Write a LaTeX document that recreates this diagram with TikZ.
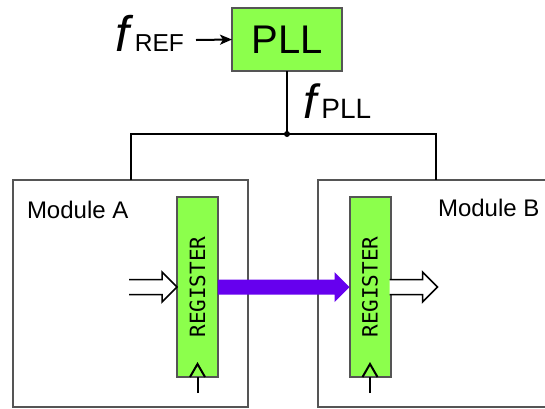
\documentclass[tikz,border=0pt]{standalone}
\usepackage{fontspec}
\setmainfont{Liberation Sans}
\setmonofont{DejaVu Sans Mono}
\usetikzlibrary{positioning,arrows.meta,calc}
\definecolor{cgreen}{HTML}{8cff4c}
\definecolor{cpurple}{HTML}{6600ee}
\definecolor{cframe}{HTML}{555555}
\newcommand{\regfont}{\ttfamily\fontsize{21bp}{21bp}\selectfont}

\tikzset{
  fatarrow/.pic={\draw[pic actions] (-48,-7.5) -- (-15,-7.5) -- (-15,-15) -- (0,0) -- (-15,15) -- (-15,7.5) -- (-48,7.5);},
  clkmark/.pic={\draw[pic actions] (-7.5,0) -- (0,-13) -- (7.5,0);}
}

\begin{document}
\begin{tikzpicture}[x=1bp, y=-1bp, every node/.style={inner sep=0pt, outer sep=0pt},
    module/.style={draw=cframe, line width=2.5bp, minimum width=235bp, minimum height=227bp},
    regbox/.style={draw=cframe, line width=2bp, fill=cgreen, minimum width=41bp, minimum height=180bp},
    wire/.style={line width=2bp},
    hollow/.style={line width=1.5bp, fill=white}]
    \useasboundingbox (0,0) rectangle (545,408);
    \clip (0,0) rectangle (545,408);
    \node[module] (modA) at (130.5,293.5) {};
    \node[module] (modB) at (435.5,293.5) {};
    \node[anchor=base west, font=\fontsize{24bp}{24bp}\selectfont] (labA) at (27,218) {Module A};
    \node[anchor=base west, font=\fontsize{24bp}{24bp}\selectfont] (labB) at (438,216) {Module B};
    \node[draw=cframe, line width=2.5bp, fill=cgreen, minimum width=110bp, minimum height=63bp, font=\fontsize{40bp}{40bp}\selectfont] (pll) at (287,39.5) {PLL};
    \node[anchor=base west] (fref) at (115,51) {\fontsize{50bp}{50bp}\selectfont{\itshape f}\kern6bp\fontsize{24.5bp}{24.5bp}\selectfont REF};
    \node[anchor=base west] (fpll) at (303,118) {\fontsize{48bp}{48bp}\selectfont{\itshape f}\kern5bp\fontsize{28bp}{28bp}\selectfont PLL};
    \coordinate (frefout) at (196,40);
    \coordinate (join) at (pll.south |- 0,134);
    \draw[wire, -{Stealth[length=12bp, width=10bp, inset=3bp]}] (frefout) -- (pll.west);
    \draw[wire] (pll) -- (join);
    \draw[wire] (modA.north) |- (join) -| (modB.north);
    \fill (join) circle (3bp);
    % registers and data path
    \node[regbox] (regA) at (197.5,287) {};
    \node[regbox] (regB) at (370,287) {};
    \node[rotate=90, font=\regfont] at (regA.center) {REGISTER};
    \node[rotate=90, font=\regfont] at (regB.center) {REGISTER};
    \pic[hollow, draw] at (regA.west) {fatarrow};
    \pic[hollow, draw] at ($(regB.east)+(47,0)$) {fatarrow};
    \fill[cpurple] ($(regA.east)+(0,-7.5)$) -- ($(regB.west)+(-15,-7.5)$) -- ($(regB.west)+(-15,-15)$) -- (regB.west)
      -- ($(regB.west)+(-15,15)$) -- ($(regB.west)+(-15,7.5)$) -- ($(regA.east)+(0,7.5)$) -- cycle;
    % clock inputs
    \coordinate (clkA) at ($(regA.south)+(0,16)$);
    \coordinate (clkB) at ($(regB.south)+(0,16)$);
    \draw[wire] (clkA) -- (regA.south);
    \draw[wire] (clkB) -- (regB.south);
    \pic[wire, draw] at (regA.south) {clkmark};
    \pic[wire, draw] at (regB.south) {clkmark};
  \end{tikzpicture}
\end{document}
